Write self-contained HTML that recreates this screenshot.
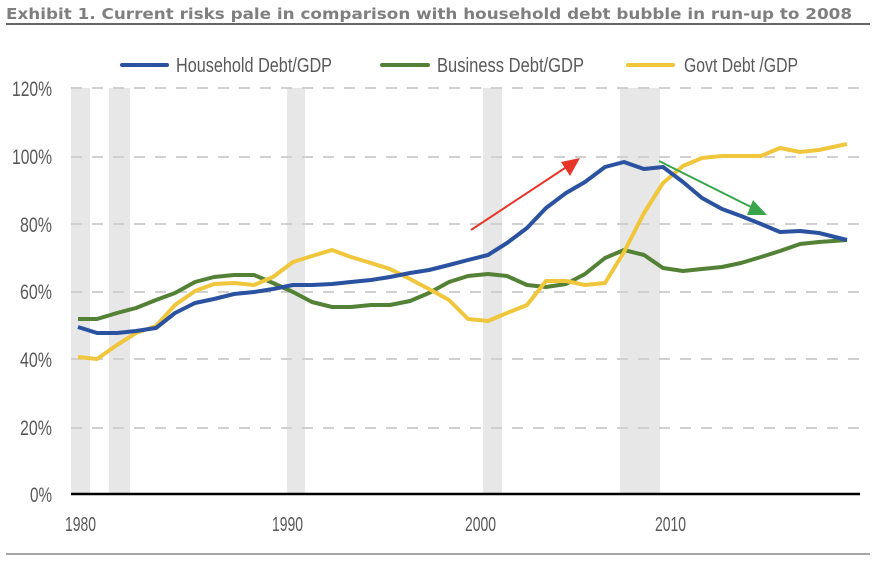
<!DOCTYPE html>
<html><head><meta charset="utf-8"><style>
body{margin:0;background:#fff;width:896px;height:556px;overflow:hidden}
svg text{font-family:"Liberation Sans Narrow","Liberation Sans",sans-serif;fill:#595959}
</style></head><body>
<svg width="896" height="556" xmlns="http://www.w3.org/2000/svg">
<text x="6" y="19" style="font-family:'DejaVu Sans',sans-serif;font-weight:bold;font-size:15px;fill:#7f7f7f" textLength="846" lengthAdjust="spacingAndGlyphs">Exhibit 1. Current risks pale in comparison with household debt bubble in run-up to 2008</text>
<line x1="6" y1="24" x2="870" y2="24" stroke="#333" stroke-width="1.5"/>
<line x1="6" y1="554" x2="870" y2="554" stroke="#888" stroke-width="1.5"/>
<g fill="#e7e7e7">
<rect x="71" y="88" width="19" height="406"/><rect x="109" y="88" width="21" height="406"/>
<rect x="287" y="88" width="18" height="406"/><rect x="483" y="88" width="19" height="406"/>
<rect x="620" y="88" width="40" height="406"/></g>
<g stroke="#d0d0d0" stroke-width="2" stroke-dasharray="11,10">
<line x1="71" y1="88" x2="860" y2="88"/><line x1="71" y1="157" x2="860" y2="157"/>
<line x1="71" y1="224" x2="860" y2="224"/><line x1="71" y1="292" x2="860" y2="292"/>
<line x1="71" y1="359" x2="860" y2="359"/><line x1="71" y1="428" x2="860" y2="428"/></g>
<line x1="71" y1="494" x2="860" y2="494" stroke="#000" stroke-width="2.5"/>
<g font-size="21" text-anchor="end">
<text x="52" y="96" textLength="40" lengthAdjust="spacingAndGlyphs">120%</text>
<text x="52" y="164" textLength="40" lengthAdjust="spacingAndGlyphs">100%</text>
<text x="52" y="232" textLength="32" lengthAdjust="spacingAndGlyphs">80%</text>
<text x="52" y="299" textLength="32" lengthAdjust="spacingAndGlyphs">60%</text>
<text x="52" y="367" textLength="32" lengthAdjust="spacingAndGlyphs">40%</text>
<text x="52" y="435" textLength="32" lengthAdjust="spacingAndGlyphs">20%</text>
<text x="52" y="502" textLength="22" lengthAdjust="spacingAndGlyphs">0%</text></g>
<g font-size="20">
<text x="65" y="531" textLength="31" lengthAdjust="spacingAndGlyphs">1980</text>
<text x="272" y="531" textLength="31" lengthAdjust="spacingAndGlyphs">1990</text>
<text x="465" y="531" textLength="31" lengthAdjust="spacingAndGlyphs">2000</text>
<text x="655" y="531" textLength="31" lengthAdjust="spacingAndGlyphs">2010</text></g>
<g font-size="20">
<line x1="122" y1="65" x2="167" y2="65" stroke="#2a52a0" stroke-width="4" stroke-linecap="round"/><text x="176" y="72" textLength="156" lengthAdjust="spacingAndGlyphs">Household Debt/GDP</text>
<line x1="382" y1="65" x2="428" y2="65" stroke="#538135" stroke-width="4" stroke-linecap="round"/><text x="437" y="72" textLength="147" lengthAdjust="spacingAndGlyphs">Business Debt/GDP</text>
<line x1="628" y1="65" x2="673" y2="65" stroke="#f0c63c" stroke-width="4" stroke-linecap="round"/><text x="684" y="72" textLength="114" lengthAdjust="spacingAndGlyphs">Govt Debt /GDP</text></g>
<g fill="none" stroke-width="4" stroke-linejoin="round">
<polyline stroke="#538135" points="78,319 97,319 117,313 136,308 156,300 175,293 195,282 214,277 234,275 254,275 273,283 293,292 312,302 332,307 351,307 371,305 390,305 410,301 429,293 449,282 468,276 488,274 507,276 527,285 546,287 566,284 585,274 605,258 624,250 644,255 663,268 683,271 702,269 722,267 741,263 761,257 780,251 800,244 819,242 847,240"/>
<polyline stroke="#f0c63c" points="78,357 97,359 117,345 136,333 156,326 175,305 195,291 214,284 234,283 254,285 273,277 293,262 312,256 332,250 351,257 371,263 390,269 410,279 429,289 449,300 468,319 488,321 507,313 527,305 546,281 566,281 585,285 605,283 624,252 644,213 663,183 683,166 702,158 722,156 741,156 761,156 780,148 800,152 819,150 847,144"/>
<polyline stroke="#2a52a0" points="78,327 97,333 117,333 136,331 156,328 175,313 195,303 214,299 234,294 254,292 273,289 293,285 312,285 332,284 351,282 371,280 390,277 410,273 429,270 449,265 468,260 488,255 507,243 527,228 546,208 566,193 585,182 605,167 624,162 644,169 663,167 683,182 702,198 722,209 741,216 761,224 780,232 800,231 819,233 847,240"/>
</g>
<line x1="471" y1="230" x2="568" y2="166" stroke="#e8352a" stroke-width="2"/>
<polygon points="580,158 561,162 570,176" fill="#e8352a"/>
<line x1="659" y1="161" x2="755" y2="209" stroke="#3aa64c" stroke-width="2"/>
<polygon points="767,215 753,200 747,215" fill="#3aa64c"/>
</svg>
</body></html>
